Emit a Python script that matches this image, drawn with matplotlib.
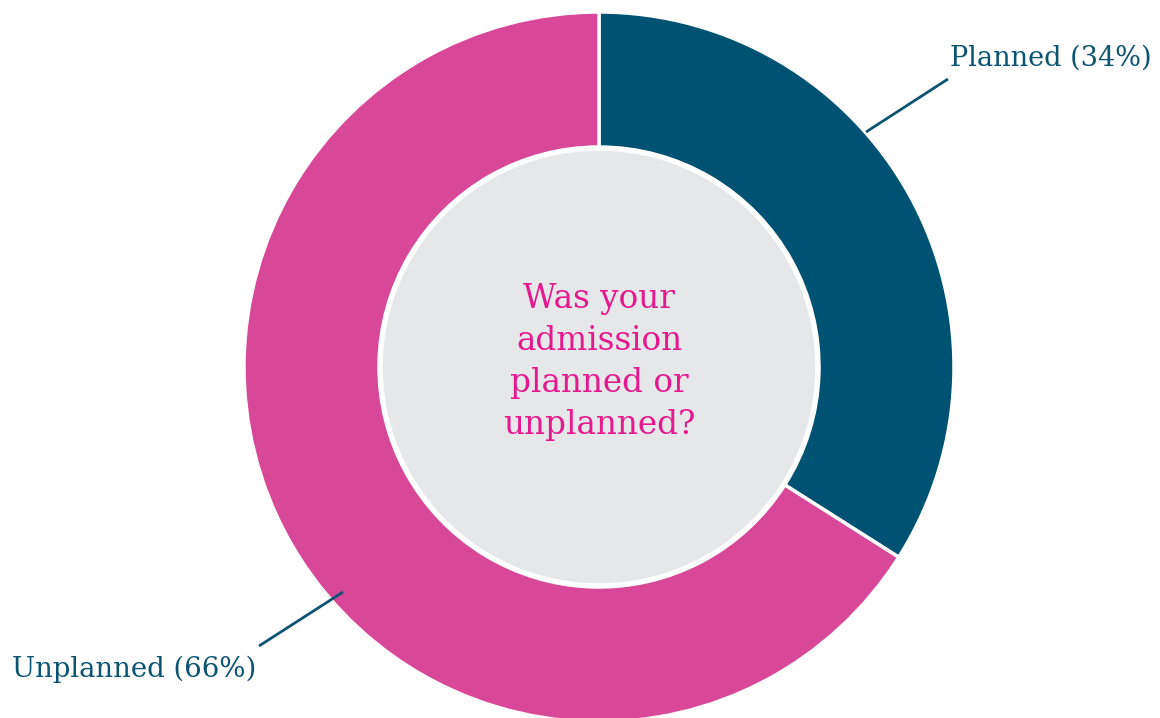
import matplotlib.pyplot as plt
from matplotlib.patches import Circle

# survey answers
labels = ["Planned", "Unplanned"]
shares = [34, 66]
colors = ["#005272", "#d94799"]
question = "Was your\nadmission\nplanned or\nunplanned?"

W, H = 1160, 718
fig = plt.figure(figsize=(W / 100, H / 100), dpi=100)
ax = fig.add_axes([0, 0, 1, 1])

cx, cy = 599, H - 367
r_out, r_in = 355, 220

ax.pie(shares, colors=colors, startangle=90, counterclock=False,
       center=(cx, cy), radius=r_out,
       wedgeprops=dict(width=r_out - r_in, edgecolor="white", linewidth=2.5))
ax.add_patch(Circle((cx, cy), r_in - 2, facecolor="#e6e7e8",
                    edgecolor="white", linewidth=2.5, zorder=3))

ax.text(cx, cy + 5, question, ha="center", va="center", color="#e5198c",
        fontsize=23.5, family="DejaVu Serif", linespacing=1.4, zorder=4)

lab_col = "#0d5472"
# leader lines
ax.plot([866, 948], [H - 132, H - 79], color=lab_col, lw=2, solid_capstyle="butt")
ax.plot([343, 259], [H - 592, H - 646], color=lab_col, lw=2, solid_capstyle="butt")

ax.text(950, H - 66, f"{labels[0]} ({shares[0]}%)", ha="left", va="baseline",
        color=lab_col, fontsize=19.5, family="DejaVu Serif")
ax.text(12, H - 677, f"{labels[1]} ({shares[1]}%)", ha="left", va="baseline",
        color=lab_col, fontsize=19.8, family="DejaVu Serif")

ax.set_xlim(0, W)
ax.set_ylim(0, H)
ax.set_aspect("auto")
ax.axis("off")

fig.savefig("out.png", dpi=100, facecolor="white")
